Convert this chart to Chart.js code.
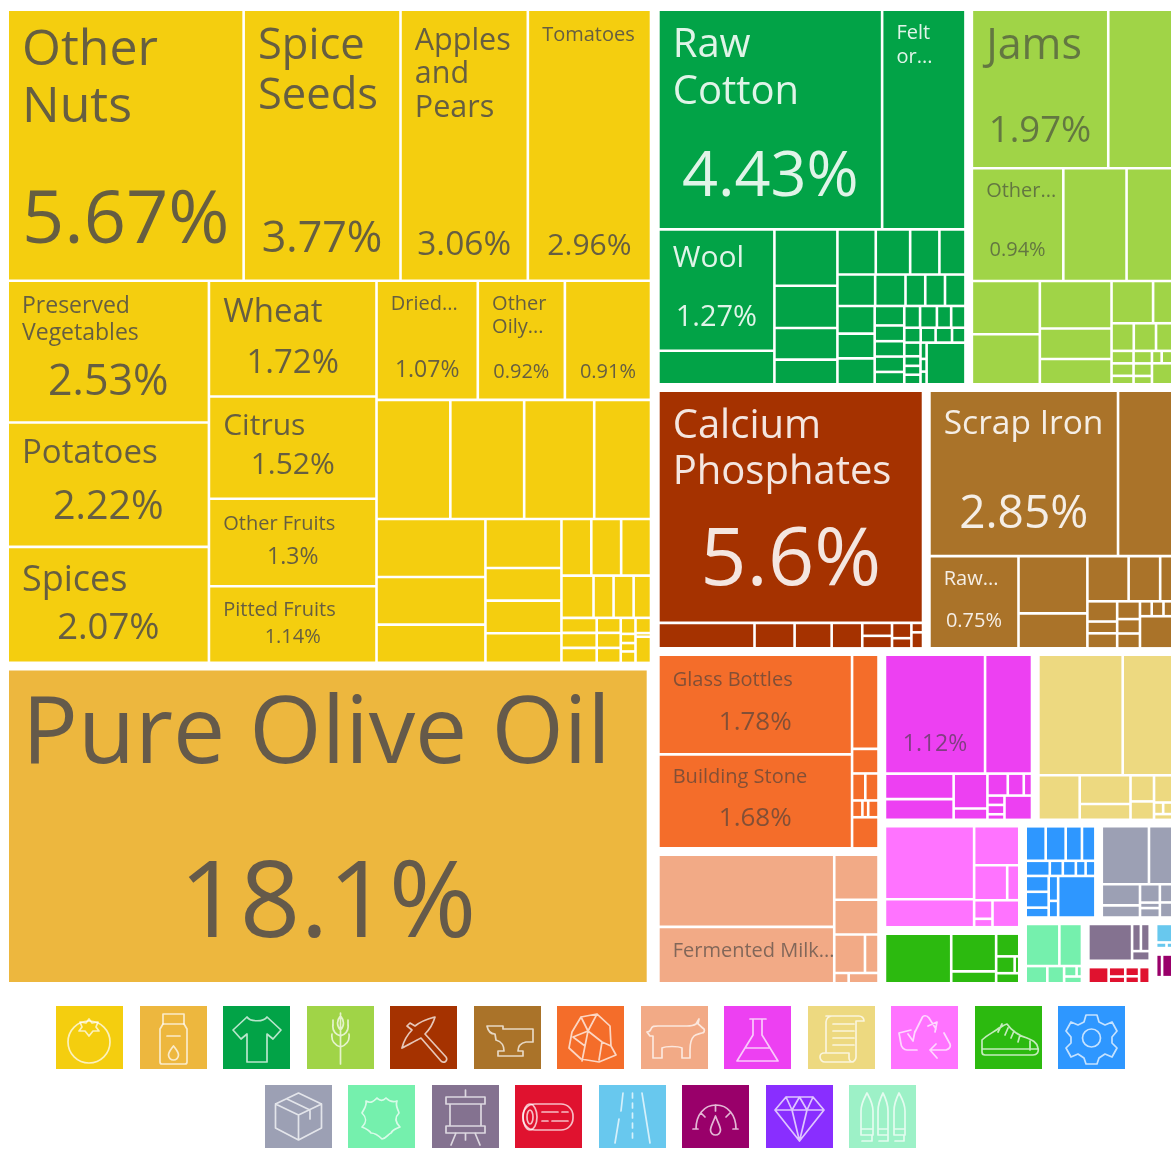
<!DOCTYPE html>
<html>
<head>
<meta charset="utf-8">
<title>Export treemap</title>
<script src="https://cdn.jsdelivr.net/npm/chart.js@4"></script>
<style>
    html, body { margin: 0; padding: 0; background: #fff; overflow: hidden; }
    #wrap { position: relative; width: 1174px; height: 1149px; }
    #treemap { position: absolute; left: 0; top: 0; }
    .icon-row { position: absolute; left: 7px; width: 1167px; display: flex; justify-content: center; gap: 16.5px; }
    .icon-row svg { display: block; width: 67px; height: 63px; fill: none; stroke: rgba(255,255,255,0.72); stroke-width: 1.7; stroke-linejoin: round; stroke-linecap: round; }
</style>
</head>
<body>
<div id="wrap">
    <canvas id="treemap" width="1174" height="994"></canvas>
    <div class="icon-row" id="iconsTop" style="top:1006px"></div>
    <div class="icon-row" id="iconsBottom" style="top:1085px"></div>
</div>
<script>
// Share of exports (%) per cell. Nesting = how the cells split, depth alternates stack / side by side
const vegetableValues = [
    [5.67, 3.77, 3.06, 2.96],
    [[2.53, 2.22, 2.07],
     [1.72, 1.52, 1.3, 1.14],
     [[1.07, 0.92, 0.91],
      [0.78, 0.78, 0.74, 0.6],
      [[0.56, 0.46, 0.37],
       [0.33, 0.22, 0.22, 0.2],
       [[0.15, 0.15, 0.15],
        [0.12, 0.075, 0.075, 0.065],
        [[0.047, 0.047, 0.047], [0.032, 0.032, 0.032], [0.021, 0.012, 0.011, 0.015], [0.021, 0.005, 0.036]]]]]]
];
const oilValues = [18.1];
const textileValues = [
    [4.43, 1.65],
    [[1.27, 0.35],
     [0.32, 0.24, 0.18, 0.14],
     [[0.156, 0.14, 0.119, 0.106],
      [0.107, 0.086, 0.056, 0.056, 0.058],
      [[0.093, 0.083, 0.087],
       [0.052, 0.042, 0.041, 0.041, 0.033],
       [[0.031, 0.033, 0.028, 0.028],
        [0.022, 0.02, 0.022, 0.018],
        [[0.02, 0.014, 0.013, 0.014], [0.009, 0.007, 0.007], 0.146]]]]]
];
const foodstuffValues = [
    [1.97, 0.925],
    [0.94, 0.65, 0.47],
    [[0.33, 0.31],
     [0.31, 0.2, 0.165],
     [[0.16, 0.074],
      [0.056, 0.056, 0.041],
      [[0.025, 0.025, 0.017], [0.021, 0.021, 0.014], [[0.011, 0.012], 0.039]]]]
];
const mineralValues = [5.6, [0.223, 0.093, 0.086, 0.071, [0.035, 0.034], [0.027, 0.018], [0.01, 0.017]]];
const metalValues = [
    [2.85, 0.82],
    [0.75,
     [0.36, 0.22],
     [[0.17, 0.13, 0.05],
      [[0.055, 0.032, 0.041], [0.037, 0.03, 0.031], [[0.016, 0.016, 0.012], 0.095]]]]
];
const stoneValues = [[[1.78, 1.68], [0.23, 0.06, [0.033, 0.033], [0.016, 0.009, 0.016], 0.076]]];
const animalValues = [[[1.19, 0.93], [0.187, 0.144, [0.111, 0.049], [0.014, 0.029]]]];
const chemicalValues = [
    [1.12, 0.525],
    [[0.165, 0.134], [0.111, 0.036], [[0.042, 0.033, 0.017], [[0.015, 0.015, 0.009], 0.063]]]
];
const paperValues = [
    [0.96, 0.565],
    [0.174, [0.138, 0.076], [0.058, 0.041], [0.047, [0.01, 0.01], 0.01]]
];
const plasticValues = [[[0.629, 0.242], [0.17, [0.112, 0.041], [[0.033, 0.015], 0.07]]]];
const footwearValues = [[0.338, [0.174, 0.055], [0.054, [0.032, 0.008], 0.024]]];
const machineValues = [
    [0.07, 0.07, 0.057, 0.047],
    [0.037, 0.02, 0.02, 0.015, 0.015],
    [[0.037, 0.037, 0.023], [0.024, 0.016], 0.157]
];
const vehicleValues = [
    [0.277, 0.137],
    [[0.082, 0.047], [0.037, 0.011, 0.019], [0.023, 0.019]]
];
const leatherValues = [[0.152, 0.102], [0.04, 0.031, [[0.014, 0.006], 0.013]]];
const miscValues = [[0.181, [[0.027, 0.027], 0.019]]];
const woodValues = [[0.044, [0.021, 0.015], [0.017, 0.013], 0.023]];
const transportValues = [0.046, [0.009, 0.005]];
const instrumentValues = [[0.021, 0.036]];
const preciousValues = [0.008];
const weaponValues = [0.004];

const sectorValues = {
    vegetables: vegetableValues, oils: oilValues, textiles: textileValues, foodstuffs: foodstuffValues,
    minerals: mineralValues, metals: metalValues, stone: stoneValues, animals: animalValues,
    chemicals: chemicalValues, paper: paperValues, plastics: plasticValues, footwear: footwearValues,
    machines: machineValues, vehicles: vehicleValues, leather: leatherValues, misc: miscValues,
    wood: woodValues, transport: transportValues, instruments: instrumentValues,
    precious: preciousValues, weapons: weaponValues
};

// Which sectors sit next to which
const sectorTree = [
    ['vegetables', 'oils'],
    [['textiles', 'foodstuffs'],
     ['minerals', 'metals'],
     [['stone', 'animals'],
      [['chemicals', 'paper'],
       [['plastics', 'footwear'],
        [['machines', 'vehicles'],
         ['leather', ['misc', 'wood'], ['transport', 'instruments', 'precious', 'weapons']]]]]]]
];

// Cells that carry text
const labelValues = [5.67, 3.77, 3.06, 2.96, 2.53, 2.22, 2.07, 1.72, 1.52, 1.3, 1.14, 1.07, 0.92, 0.91, 18.1,
    4.43, 1.65, 1.27, 1.97, 0.94, 5.6, 2.85, 0.75, 1.78, 1.68, 0.93, 1.12];
const labelNames = ['Other\nNuts', 'Spice\nSeeds', 'Apples\nand\nPears', 'Tomatoes', 'Preserved\nVegetables',
    'Potatoes', 'Spices', 'Wheat', 'Citrus', 'Other Fruits', 'Pitted Fruits', 'Dried...', 'Other\nOily...', '',
    'Pure Olive Oil', 'Raw\nCotton', 'Felt\nor...', 'Wool', 'Jams', 'Other...', 'Calcium\nPhosphates', 'Scrap Iron',
    'Raw...', 'Glass Bottles', 'Building Stone', 'Fermented Milk...', ''];

// Text sizes, same order as labelValues: name size, line height, name offset, percent size, percent offset
const labelStyles = [
    [50, 57, 40, 74, 211], [43.5, 50, 36, 43, 229], [30.5, 33.5, 30, 33.5, 234], [20, 24, 24, 30, 235],
    [23, 27, 24, 43, 101], [33, 34, 30, 39.5, 84], [36, 40, 33, 36.5, 80], [33, 36, 31, 33, 82],
    [30, 34, 29, 30, 68], [20, 24, 24, 23, 57], [20, 24, 23, 20, 50], [20, 23, 22, 23, 88],
    [20, 23, 22, 20, 90], [20, 23, 22, 20, 90], [93, 100, 66, 106, 236], [40, 47, 35, 63, 167],
    [20, 24, 22, 0, 0], [30, 34, 28, 29, 87], [43, 48, 36, 36.5, 121], [20, 23, 22, 20, 81],
    [40, 46, 35, 81, 170], [33.5, 36, 32, 46, 123], [20, 23, 22, 20, 64], [20, 23, 24, 26, 67],
    [20, 23, 22, 26, 63], [20, 23, 23, 0, 0], [20, 23, 23, 23, 88]
];

const sectorColors = {
    vegetables: '#F4CE0F', oils: '#EDB73E', textiles: '#02A347', foodstuffs: '#A0D447', minerals: '#A53200',
    metals: '#AA7329', stone: '#F46D2A', animals: '#F2AA86', chemicals: '#ED40F2', paper: '#EDD980',
    plastics: '#FF73FF', footwear: '#2CBA0F', machines: '#2E97FF', vehicles: '#9CA0B4', leather: '#75F0AD',
    misc: '#847290', wood: '#E0122F', transport: '#68C8EE', instruments: '#99006A', precious: '#892EFF',
    weapons: '#9DF1C7'
};
const inkColors = {
    dark: 'rgba(66,66,78,0.8)', soft: 'rgba(62,62,62,0.62)', light: 'rgba(255,255,255,0.88)'
};
const sectorInk = {
    vegetables: 'dark', oils: 'dark', textiles: 'light', foodstuffs: 'soft', minerals: 'light', metals: 'light',
    stone: 'soft', animals: 'soft', chemicals: 'soft'
};

const plotWidth = 1162;
const plotHeight = 971;
const sectorPad = 4.5;
const cellPad = 1.3;
const nameInset = 13;
// Left column stops a little short of the gutter in the picture
const rightTrim = { vegetables: 1, oils: 4 };

function sumOf(node) {
    if (typeof node === 'string') return sumOf(sectorValues[node]);
    if (Array.isArray(node)) return node.reduce((sum, child) => sum + sumOf(child), 0);
    return node;
}

// Walk a nested list and hand out rectangles in proportion to the values
function split(node, box, stacked, visit) {
    if (!Array.isArray(node)) {
        visit(node, box);
        return;
    }
    const total = sumOf(node);
    let pos = 0;
    node.forEach(child => {
        const share = sumOf(child) / total;
        if (stacked) {
            split(child, { x: box.x, y: box.y + pos, w: box.w, h: box.h * share }, false, visit);
            pos += box.h * share;
        } else {
            split(child, { x: box.x + pos, y: box.y, w: box.w * share, h: box.h }, true, visit);
            pos += box.w * share;
        }
    });
}

function buildCells() {
    const cells = {};
    const rootBox = { x: -sectorPad, y: -sectorPad, w: plotWidth + sectorPad * 2, h: plotHeight + sectorPad * 2 };
    split(sectorTree, rootBox, false, (name, box) => {
        cells[name] = [];
        const inner = {
            x: box.x + sectorPad - cellPad,
            y: box.y + sectorPad - cellPad,
            w: box.w - (sectorPad - cellPad) * 2 - (rightTrim[name] || 0),
            h: box.h - (sectorPad - cellPad) * 2
        };
        if (inner.w <= 0 || inner.h <= 0) return;
        split(sectorValues[name], inner, true, (value, b) => {
            if (b.w <= cellPad * 2 || b.h <= cellPad * 2) return;
            cells[name].push({
                x: b.x + cellPad, y: b.y + cellPad, w: b.w - cellPad * 2, h: b.h - cellPad * 2, value: value
            });
        });
    });
    return cells;
}

// Chart.js has no treemap type, so a small controller places bar elements through the scales
class TreemapController extends Chart.DatasetController {
    update(mode) {
        const meta = this._cachedMeta;
        this.updateElements(meta.data, 0, meta.data.length, mode);
    }

    updateElements(rects, start, count, mode) {
        const meta = this._cachedMeta;
        const data = this.getDataset().data;
        for (let i = start; i < start + count; i++) {
            const cell = data[i];
            const left = meta.xScale.getPixelForValue(cell.x);
            const right = meta.xScale.getPixelForValue(cell.x + cell.w);
            const top = meta.yScale.getPixelForValue(cell.y);
            const bottom = meta.yScale.getPixelForValue(cell.y + cell.h);
            this.updateElement(rects[i], i, {
                x: (left + right) / 2,
                y: top,
                base: bottom,
                width: right - left,
                height: bottom - top,
                horizontal: false,
                inflateAmount: 0,
                borderSkipped: {},
                options: this.resolveDataElementOptions(i, mode)
            }, mode);
        }
    }
}
TreemapController.id = 'treemap';
TreemapController.defaults = { dataElementType: 'bar' };
Chart.register(TreemapController);

// Names and percentages on top of the cells
const cellLabels = {
    id: 'cellLabels',
    afterDatasetsDraw(chart) {
        const ctx = chart.ctx;
        ctx.save();
        ctx.textBaseline = 'middle';
        chart.data.datasets.forEach((dataset, d) => {
            const meta = chart.getDatasetMeta(d);
            ctx.fillStyle = inkColors[sectorInk[dataset.label] || 'soft'];
            dataset.data.forEach((cell, i) => {
                const index = labelValues.indexOf(cell.value);
                if (index < 0) return;
                const el = meta.data[i];
                const left = el.x - el.width / 2;
                const [nameSize, lineHeight, nameTop, pctSize, pctTop] = labelStyles[index];
                ctx.textAlign = 'left';
                ctx.font = `400 ${nameSize}px "Open Sans"`;
                labelNames[index].split('\n').forEach((line, n) => {
                    if (line) ctx.fillText(line, left + nameInset, el.y + nameTop + n * lineHeight);
                });
                if (pctSize) {
                    ctx.textAlign = 'center';
                    ctx.font = `400 ${pctSize}px "Open Sans"`;
                    ctx.fillText(cell.value + '%', el.x, el.y + pctTop);
                }
            });
        });
        ctx.restore();
    }
};

const cells = buildCells();
const sectorNames = Object.keys(sectorValues);

new Chart(document.getElementById('treemap'), {
    type: 'treemap',
    data: {
        datasets: sectorNames.map(name => ({
            label: name,
            data: cells[name],
            backgroundColor: sectorColors[name]
        }))
    },
    options: {
        responsive: false,
        animation: false,
        parsing: false,
        events: [],
        layout: { padding: { left: 9, right: 3, top: 11, bottom: 12 } },
        plugins: { legend: { display: false }, tooltip: { enabled: false } },
        scales: {
            x: { type: 'linear', display: false, min: 0, max: plotWidth },
            y: { type: 'linear', display: false, reverse: true, min: 0, max: plotHeight }
        }
    },
    plugins: [cellLabels]
});

// Sector icons under the chart, line drawings on a 67x63 box
const sectorIcons = {
    vegetables: '<circle cx="33" cy="36" r="21"/><path d="M33 13l3 4 6-1-2 5 3 4-6 0-4 5-4-5-6 0 3-4-2-5 6 1z"/>',
    oils: '<path d="M23 8h21v10l3 5v33a2 2 0 0 1-2 2h-23a2 2 0 0 1-2-2v-33l3-5z"/><path d="M23 18h21M27 30h13"/><path d="M33.5 40c3 4 5 6 5 9a5 5 0 0 1-10 0c0-3 2-5 5-9z"/>',
    textiles: '<path d="M24 11l-14 13 8 9 6-5v28h20v-28l6 5 8-9-14-13c-3 5-17 5-20 0z"/>',
    foodstuffs: '<path d="M33.5 7v51M33.5 10c-4 4-4 10 0 14 4-4 4-10 0-14zM26 18c-1 6 2 10 7.5 12M41 18c1 6-2 10-7.5 12M25 28c-1 7 3 11 8.5 13M42 28c1 7-3 11-8.5 13M26 14v6M41 14v6"/>',
    minerals: '<path d="M12 42c2-8 6-14 10-18l-5-4 3-3 5 3c5-4 12-7 20-9-2 7-6 13-10 17l21 23a3 3 0 0 1-5 4l-20-23c-6 3-13 7-19 10z"/>',
    metals: '<path d="M13 20h16v3h30v13h-7c-5 1-8 4-8 9h5v5h-25v-5h6c0-6-2-9-8-11l-1-6c-4 0-7-3-8-8z"/>',
    stone: '<path d="M24 11l16-3 13 12 1 20 5 9-17 7-18-3-12-11 3-16zM24 11l7 14 9-17M31 25l-15 6 12 9 3-15 14 11 9 4M28 40l-3 15M45 36l-3 18"/>',
    animals: '<path d="M6 26c0 0 3 0 4-3 1-3 3-3 7-3h29c3 0 6 0 9-2l3-5-1 5c2 1 3 3 6 5 1 2 0 4-2 4-4 1-6 1-8 3-3 3-4 7-4 14v8h-8v-10c-4-2-16-2-20 0v10h-9v-22h-3z"/>',
    chemicals: '<path d="M26 13h16M29 13v16l-16 26h41l-16-26v-16M21 42h25"/>',
    paper: '<path d="M18 10h33a5 5 0 0 1 5 5h-8v36a5 5 0 0 1-5 5H17a5 5 0 0 1-5-5 4 4 0 0 1 4-4h25v5a4 4 0 0 0 4 4M18 47V16a6 6 0 0 1 6-6M25 18h21M25 25h21M25 32h21M25 39h21"/>',
    plastics: '<path d="M24 26l7-14c1-3 5-3 7 0l7 11M44 26l2-10-9 4M20 24l-12 3 2 11c0 3 3 6 6 6h10M17 28l5 7 2-10M53 27l6 11c1 3-1 5-4 6h-16l6-6M39 44l7 8"/>',
    footwear: '<path d="M7 34v12a3 3 0 0 0 3 3h48c4 0 6-3 5-7-1-6-6-8-11-10-8-2-16-8-20-14-4 1-5 3-8 4-5 4-12 7-17 12zM8 43h54M27 18l-4 8M33 22l-3 7M39 25l-3 7M45 29l-2 7M55 35v9"/>',
    machines: '<circle cx="33.5" cy="32" r="9"/><path d="M28 9h11l2 7 6 3 7-3 5 9-5 6v6l5 5-5 9-7-3-6 4-2 6H28l-2-6-6-4-7 3-5-9 5-5v-6l-5-6 5-9 7 3 6-3z"/>',
    vehicles: '<path d="M33.5 8l23 11v24l-23 12-23-12V19zM10.5 19l23 11 23-11M33.5 30v25M22 14l23 11v9"/>',
    leather: '<path d="M18 16c5 3 8 0 11-3 3 3 6 3 9 0 3 3 6 5 11 3-2 5 1 8 2 12-5 5-3 10 1 14-4 2-7 2-9 6-3 1-4 5-9 6-4-4-7-6-11-6-2-3-4-4-9-6 5-5 5-9 0-14 2-4 5-7 4-12z"/>',
    misc: '<path d="M14 12h39v7H14zM14 41h39v7H14zM18 19v22M49 19v22M33.5 5v7M33.5 48v7M24 48l-5 12M43 48l5 12"/>',
    wood: '<rect x="8" y="19" width="50" height="26" rx="12"/><ellipse cx="15" cy="32" rx="7" ry="13"/><ellipse cx="15" cy="32" rx="3" ry="7"/><path d="M27 27h16M47 27h6M27 36h6M37 36h16"/>',
    transport: '<path d="M24 8l-2 18M20 34l-4 24M43 8l8 50"/><path d="M33.5 8v50" stroke-dasharray="5 5"/>',
    instruments: '<path d="M14 44c0-14 8-24 20-24s20 10 20 24M11 44h5M51 44h5M33.5 20v6M19 28l4 4M48 28l-4 4"/><path d="M33.5 31c3 8 5 11 5 14a5 5 0 0 1-10 0c0-3 2-6 5-14z"/>',
    precious: '<path d="M20 12h27l11 13-24.500 31L9 25zM9 25h49M20 12l6 13 7.500-13 7.500 13 6-13M26 25l7.500 31L41 25"/>',
    weapons: '<path d="M12 50V26c0-8 4-14 6-18 2 4 6 10 6 18v24zM29 50V26c0-8 3-14 5-18 2 4 5 10 5 18v24zM45 50V26c0-8 3-14 5-18 2 4 6 10 6 18v24zM12 44h12M29 44h10M45 44h11M13 56h10v-6M30 56h9v-6M46 56h9v-6"/>'
};
const iconsTop = ['vegetables', 'oils', 'textiles', 'foodstuffs', 'minerals', 'metals', 'stone', 'animals',
    'chemicals', 'paper', 'plastics', 'footwear', 'machines'];
const iconsBottom = ['vehicles', 'leather', 'misc', 'wood', 'transport', 'instruments', 'precious', 'weapons'];

function renderIcons(id, names) {
    document.getElementById(id).innerHTML = names.map(name =>
        `<svg viewBox="0 0 67 63" style="background:${sectorColors[name]}">${sectorIcons[name]}</svg>`
    ).join('');
}
renderIcons('iconsTop', iconsTop);
renderIcons('iconsBottom', iconsBottom);
</script>
</body>
</html>
